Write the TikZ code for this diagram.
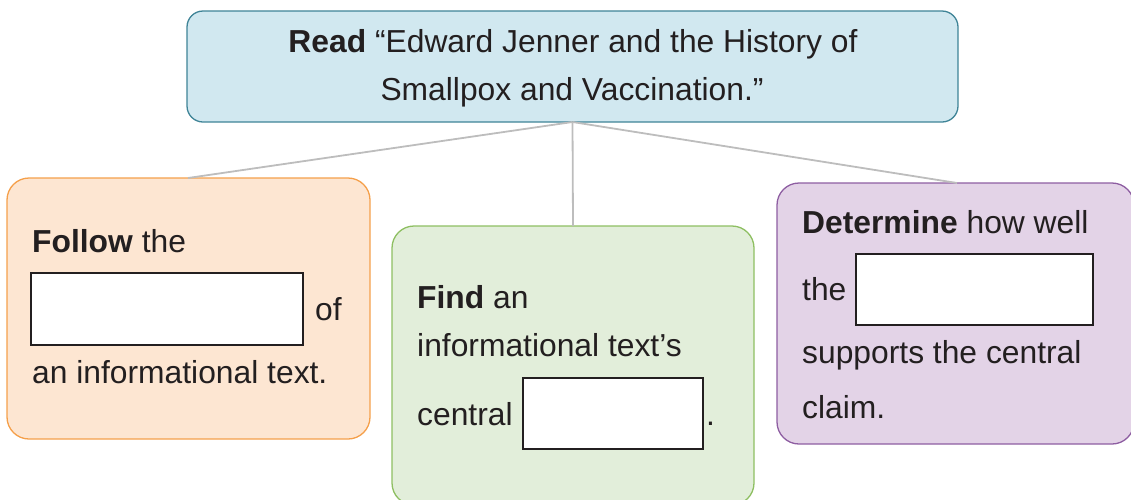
\documentclass[tikz,border=0pt]{standalone}
\usepackage{fontspec}
\setmainfont{Liberation Sans}
\usetikzlibrary{calc}
\definecolor{ink}{HTML}{231F20}
\definecolor{bluefill}{HTML}{D1E8F0}
\definecolor{blueline}{HTML}{3F8497}
\definecolor{orfill}{HTML}{FDE6D2}
\definecolor{orline}{HTML}{F5A04B}
\definecolor{grfill}{HTML}{E2EEDA}
\definecolor{grline}{HTML}{8EBF62}
\definecolor{pufill}{HTML}{E3D3E7}
\definecolor{puline}{HTML}{8E5EA2}
\definecolor{linegray}{HTML}{BDBDBD}
\begin{document}
\begin{tikzpicture}[x=1pt,y=-1pt,
  box/.style={draw, line width=1.3pt, rounded corners=22pt, inner sep=0pt, outer sep=0pt, anchor=north west},
  txt/.style={anchor=base west, inner sep=0pt, text=ink, font=\fontsize{31.8}{40}\selectfont},
  ctxt/.style={txt, anchor=base},
  blank/.style={draw=ink, fill=white, line width=2.2pt, inner sep=0pt, outer sep=0pt, anchor=north west},
  conn/.style={draw=linegray, line width=1.8pt}]
\useasboundingbox (0,0) rectangle (1131,499);
% boxes
\node[box, draw=blueline, fill=bluefill, rounded corners=16pt, minimum width=771pt, minimum height=111pt] (top) at (187,11) {};
\node[box, draw=orline, fill=orfill, minimum width=363pt, minimum height=261pt] (follow) at (7,178) {};
\node[box, draw=grline, fill=grfill, minimum width=362pt, minimum height=279pt] (find) at (392,226) {};
\node[box, draw=puline, fill=pufill, minimum width=357pt, minimum height=261pt] (determine) at (777,183) {};
% connectors
\draw[conn] (top.south) -- ([xshift=181pt]follow.north west);
\draw[conn] (top.south) -- (find.north);
\draw[conn] (top.south) -- ([xshift=180pt]determine.north west);
% top text
\node[ctxt] (t1) at (573,52) {\textbf{Read} “Edward Jenner and the History of};
\node[ctxt] (t2) at (572,100) {Smallpox and Vaccination.”};
% left
\node[txt] (l1) at (32,252) {\textbf{Follow} the};
\node[blank, minimum width=272pt, minimum height=72pt] (lb) at (31,273) {};
\node[txt] (l2) at (315,320) {of};
\node[txt] (l3) at (32,383) {an informational text.};
% middle
\node[txt] (m1) at (417,308) {\textbf{Find} an};
\node[txt] (m2) at (417,356) {informational text’s};
\node[txt] (m3) at (417,425) {central};
\node[blank, minimum width=180pt, minimum height=71pt] (mb) at (523,378) {};
\node[txt] (m4) at (706,425) {.};
% right
\node[txt] (r1) at (802,233) {\textbf{Determine} how well};
\node[txt] (r2) at (802,300) {the};
\node[blank, minimum width=237pt, minimum height=71pt] (rb) at (856,254) {};
\node[txt] (r3) at (802,363) {supports the central};
\node[txt] (r4) at (802,418) {claim.};
\end{tikzpicture}
\end{document}
